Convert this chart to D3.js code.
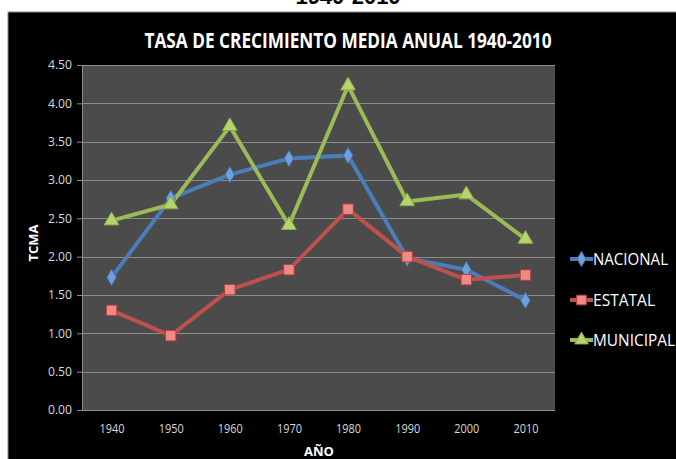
<!DOCTYPE html>
<html><head><meta charset="utf-8">
<script src="https://cdn.jsdelivr.net/npm/d3@7"></script>
<style>
html,body{margin:0;padding:0;background:#fff;}
svg{display:block;}
text{font-family:"Liberation Sans Narrow","Open Sans","DejaVu Sans Condensed",sans-serif;}
</style></head><body>
<svg id="c" width="676" height="459"></svg>
<script>
const years = ["1940","1950","1960","1970","1980","1990","2000","2010"];
const nacional  = [1.73, 2.76, 3.07, 3.28, 3.32, 1.98, 1.83, 1.43];
const estatal   = [1.30, 0.97, 1.57, 1.83, 2.62, 2.00, 1.70, 1.76];
const municipal = [2.47, 2.68, 3.70, 2.41, 4.23, 2.72, 2.81, 2.23];
const yTicks = [0,0.5,1,1.5,2,2.5,3,3.5,4,4.5];
const seriesNames = ["NACIONAL","ESTATAL","MUNICIPAL"];

const legendWidths = [75, 62, 82];
const series = [
  {name: seriesNames[0], values: nacional, line:"#4a7ebb", fill:"#6fa0dc", stroke:"#3b6aa3", shape:d3.symbolDiamond, size:80},
  {name: seriesNames[1], values: estatal, line:"#c0504d", fill:"#f08a86", stroke:"#b0403d", shape:d3.symbolSquare, size:110},
  {name: seriesNames[2], values: municipal, line:"#9bbb59", fill:"#b5d46e", stroke:"#8aab48", shape:d3.symbolTriangle, size:95}
];

const svg = d3.select("#c");
svg.append("text").attr("x",348).attr("y",4).attr("text-anchor","middle")
  .attr("font-size",22).attr("font-weight","bold").attr("fill","#000")
  .style("font-family","'Liberation Sans',Arial,sans-serif").text("1940-2010");

svg.append("rect").attr("x",8).attr("y",12).attr("width",670).attr("height",450)
  .attr("fill","#000").attr("stroke","#8a8a8a").attr("stroke-width",1);

const L=82,R=555,T=65,B=410;
const x = d3.scalePoint().domain(years).range([L,R]).padding(0.5);
const y = d3.scaleLinear().domain([0,4.5]).range([B,T]);

svg.append("rect").attr("x",L).attr("y",T).attr("width",R-L).attr("height",B-T).attr("fill","#4b4b4b");

svg.append("g").selectAll("line").data(yTicks.filter(d=>d>0)).join("line")
  .attr("x1",L).attr("x2",R).attr("y1",d=>Math.round(y(d))+0.5).attr("y2",d=>Math.round(y(d))+0.5)
  .attr("stroke","#8c8c8c").attr("stroke-width",1);

const ya = svg.append("g").attr("transform",`translate(${L},0)`)
  .call(d3.axisLeft(y).tickValues(yTicks).tickFormat(d3.format(".2f")).tickSize(5).tickPadding(5));
ya.select(".domain").attr("stroke","#8c8c8c");
ya.selectAll(".tick line").attr("stroke","#8c8c8c");
ya.selectAll("text").attr("fill","#d9d9d9").attr("font-size",12)
  .attr("textLength",24).attr("lengthAdjust","spacingAndGlyphs");

const xa = svg.append("g").attr("transform",`translate(0,${B})`)
  .call(d3.axisBottom(x).tickSize(0).tickPadding(14));
xa.select(".domain").attr("stroke","#8c8c8c").attr("d",`M${L},0.5H${R}`);
xa.selectAll("text").attr("fill","#d9d9d9").attr("font-size",12)
  .attr("textLength",25).attr("lengthAdjust","spacingAndGlyphs");

svg.append("text").attr("x",348).attr("y",48).attr("text-anchor","middle")
  .attr("fill","#fff").attr("font-size",21).attr("font-weight","bold")
  .attr("textLength",407).attr("lengthAdjust","spacingAndGlyphs")
  .text("TASA DE CRECIMIENTO MEDIA ANUAL 1940-2010");

svg.append("text").attr("transform","translate(38,243) rotate(-90)").attr("text-anchor","middle")
  .attr("fill","#fff").attr("font-size",13).attr("font-weight","bold").text("TCMA");
svg.append("text").attr("x",319).attr("y",456).attr("text-anchor","middle")
  .attr("fill","#fff").attr("font-size",13).attr("font-weight","bold").text("AÑO");

const line = d3.line().x((d,i)=>x(years[i])).y(d=>y(d));
series.forEach(s=>{
  svg.append("path").datum(s.values).attr("d",line).attr("fill","none")
    .attr("stroke",s.line).attr("stroke-width",4).attr("stroke-linejoin","round");
});
series.forEach(s=>{
  svg.append("g").selectAll("path").data(s.values).join("path")
    .attr("transform",(d,i)=>`translate(${x(years[i])},${y(d)})`)
    .attr("d",d3.symbol().type(s.shape).size(s.size))
    .attr("fill",s.fill).attr("stroke",s.stroke).attr("stroke-width",1);
});

const legY = [259,300,340];
series.forEach((s,i)=>{
  const g = svg.append("g").attr("transform",`translate(0,${legY[i]})`);
  g.append("line").attr("x1",570).attr("x2",593).attr("y1",0).attr("y2",0)
    .attr("stroke",s.line).attr("stroke-width",4);
  g.append("path").attr("transform","translate(581.5,0)")
    .attr("d",d3.symbol().type(s.shape).size(s.size*0.85)).attr("fill",s.fill).attr("stroke",s.stroke);
  g.append("text").attr("x",593).attr("y",6).attr("fill","#fff").attr("font-size",17)
    .attr("textLength",legendWidths[i]).attr("lengthAdjust","spacingAndGlyphs")
    .text(s.name);
});
</script>
</body></html>
